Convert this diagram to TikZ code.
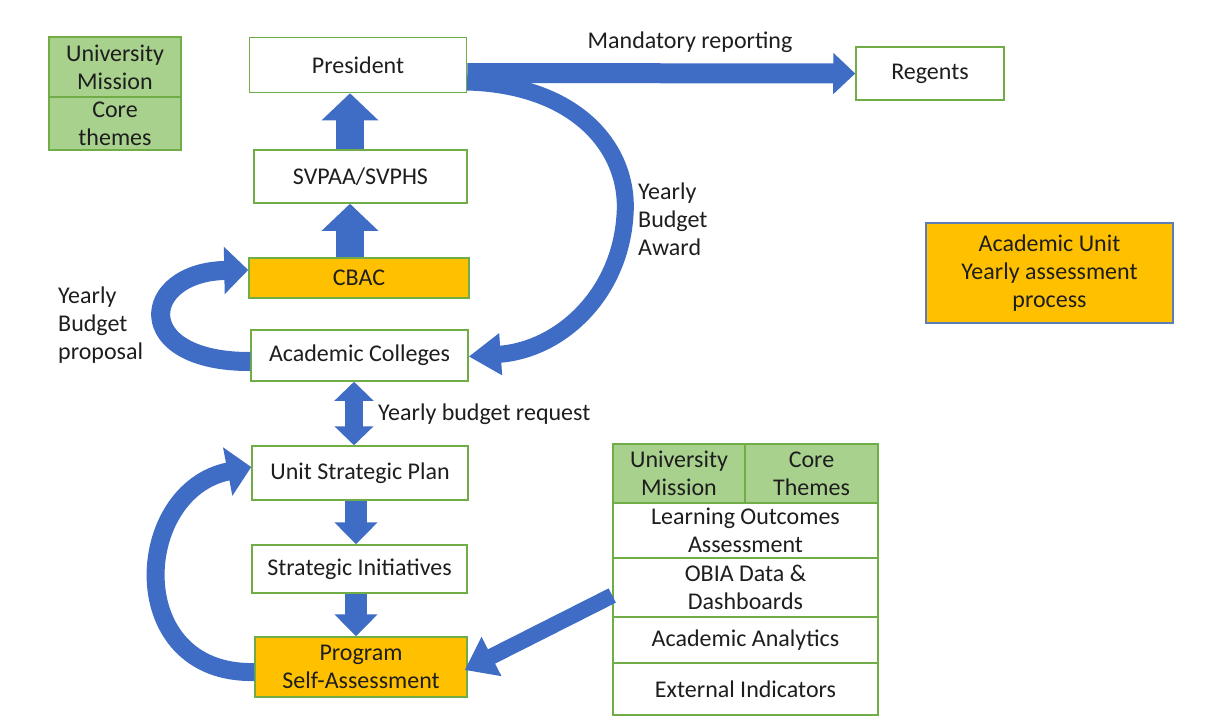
\documentclass[tikz,border=0pt]{standalone}
\usepackage{fontspec}
\setmainfont{Carlito}
\usetikzlibrary{arrows.meta,calc}
\definecolor{bgreen}{HTML}{70AD47}
\definecolor{fgreen}{HTML}{A9D18E}
\definecolor{orng}{HTML}{FFC000}
\definecolor{ablue}{HTML}{3F6CC4}
\definecolor{txt}{HTML}{1E1E1E}
\definecolor{aubord}{HTML}{5B7DB8}
\begin{document}
\begin{tikzpicture}[x=1pt,y=-1pt,
  every node/.style={font=\fontsize{24}{28}\selectfont, text=txt},
  box/.style={draw=bgreen, line width=1.5pt, fill=white, inner sep=0pt, align=center},
  gbox/.style={box, fill=fgreen},
  obox/.style={box, fill=orng},
  lbl/.style={inner sep=0pt, align=left},
  bigup/.style={draw=ablue, line width=28pt, -{Triangle[width=55pt,length=27pt]}},
  smdown/.style={draw=ablue, line width=22pt, -{Triangle[width=42pt,length=22pt]}},
  curved/.style={draw=ablue, line width=#1},
]
\useasboundingbox[fill=white] (0,0) rectangle (1210,728);

% left column nodes
\node[box, minimum width=217, minimum height=55] (pres) at (358,65) {President};
\node[box, minimum width=213, minimum height=53] (svp) at (360.5,176.5) {SVPAA/SVPHS};
\node[obox, minimum width=220, minimum height=40] (cbac) at (359,278) {CBAC};
\node[box, minimum width=217, minimum height=51] (col) at (359.5,355.5) {Academic Colleges};
\node[box, minimum width=216, minimum height=54] (usp) at (360,473) {Unit Strategic Plan};
\node[box, minimum width=215, minimum height=48] (si) at (359.5,569) {Strategic Initiatives};
\node[obox, minimum width=212, minimum height=60] (psa) at (361,667) {Program\\Self-Assessment};

% top-left
\node[gbox, minimum width=132, minimum height=60] (um) at (115,67) {University\\Mission};
\node[gbox, minimum width=132, minimum height=53] (ct) at (115,123.5) {Core\\themes};

% regents and academic unit
\node[box, minimum width=148, minimum height=53] (reg) at (930,73.5) {Regents};
\node[box, fill=orng, draw=aubord, line width=1.2pt, minimum width=247, minimum height=100] (au) at (1049.5,273) {Academic Unit\\Yearly assessment\\process};

% right stack
\node[gbox, minimum width=132, minimum height=59] (um2) at (679,473.5) {University\\Mission};
\node[gbox, minimum width=133, minimum height=59] (ct2) at (811.5,473.5) {Core\\Themes};
\node[box, minimum width=265, minimum height=55] (loa) at (745.5,530.5) {Learning Outcomes\\Assessment};
\node[box, minimum width=265, minimum height=59] (obia) at (745.5,587.5) {OBIA Data \&\\Dashboards};
\node[box, minimum width=265, minimum height=46] (aa) at (745.5,640) {Academic Analytics};
\node[box, minimum width=265, minimum height=52] (ei) at (745.5,689) {External Indicators};

% curved budget award arrow
\draw[curved=17pt, -{Triangle[width=40pt,length=32pt]}]
  ([yshift=-17pt]pres.east) .. controls (578,85) and (630,150) .. (625,215)
  .. controls (620,295) and (560,350) .. ([yshift=-1pt]col.east);

% mandatory reporting arrow
\draw[draw=ablue, line width=20pt, -{Triangle[width=40pt,length=22pt]}]
  ([yshift=-8pt]pres.east) -- (reg.west);

% vertical arrows
\draw[bigup] ([xshift=-10.5pt]svp.north) -- ([xshift=-10.5pt]svp.north |- pres.south);
\draw[bigup] ([xshift=-9pt]cbac.north) -- ([xshift=-9pt]cbac.north |- svp.south);
\draw[draw=ablue, line width=18pt, {Triangle[width=38pt,length=19pt]}-{Triangle[width=38pt,length=19pt]}]
  ([xshift=-5.5pt]col.south) -- ([xshift=-5.5pt]col.south |- usp.north);
\draw[smdown] ([xshift=-4pt]usp.south) -- ([xshift=-4pt]usp.south |- si.north);
\draw[smdown] ([xshift=-3.5pt]si.south) -- ([xshift=-3.5pt]si.south |- psa.north);

% left loops
\draw[curved=19pt, -{Triangle[width=46pt,length=24pt]}]
  ([yshift=-6pt]col.west) .. controls (130,362) and (140,272) .. ([yshift=8pt]cbac.west);
\draw[curved=18pt, -{Triangle[width=48pt,length=24pt]}]
  ([yshift=-5pt]psa.west) .. controls (122,675) and (132,490) .. ([yshift=6pt]usp.west);

% diagonal arrow from data stack
\draw[curved=16pt, -{Triangle[width=42pt,length=30pt]}]
  ([yshift=-8pt]obia.west) -- ([xshift=-3pt,yshift=-3pt]psa.east);

% labels
\node[lbl] (mr) at (690,42) {Mandatory reporting};
\node[lbl, anchor=west] (ybr) at (378,414) {Yearly budget request};
\node[lbl, anchor=west] (yba) at (638,219) {Yearly\\Budget\\Award};
\node[lbl, anchor=west] (ybp) at (58,325) {Yearly\\Budget\\proposal};
\end{tikzpicture}
\end{document}
